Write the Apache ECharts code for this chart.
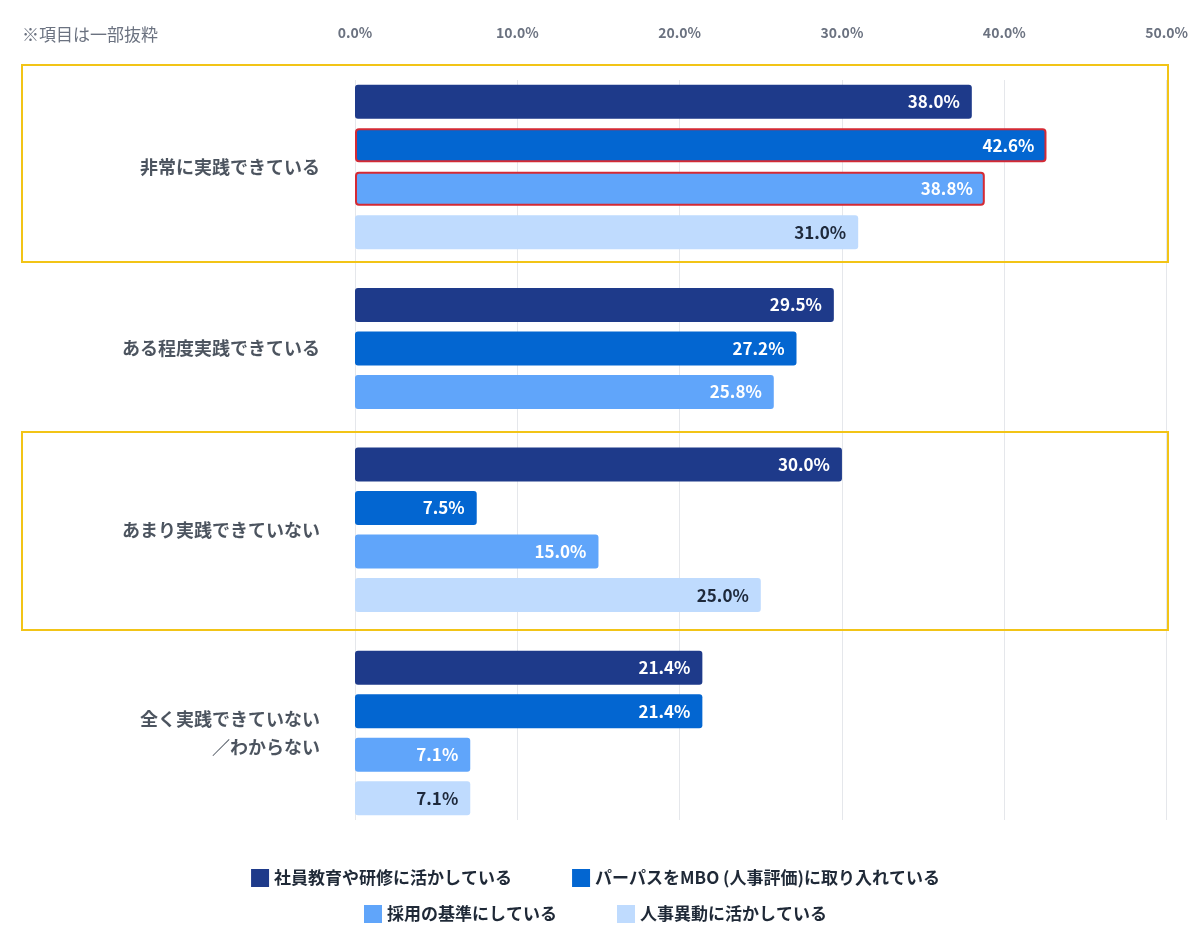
<!DOCTYPE html>
<html>
<head>
<meta charset="utf-8">
<script src="https://cdn.jsdelivr.net/npm/echarts@6/dist/echarts.min.js"></script>
<style>html,body{margin:0;padding:0;background:#fff}#main{width:1191px;height:948px}</style>
</head>
<body>
<div id="main"></div>
<script>
// 回答区分
var groups = ['非常に実践できている', 'ある程度実践できている', 'あまり実践できていない', '全く実践できていない\n／わからない'];
var seriesNames = ['社員教育や研修に活かしている', 'パーパスをMBO (人事評価)に取り入れている', '採用の基準にしている', '人事異動に活かしている'];
var kyoiku = [38.0, 29.5, 30.0, 21.4];
var mbo = [42.6, 27.2, 7.5, 21.4];
var saiyo = [38.8, 25.8, 15.0, 7.1];
var idou = [31.0, null, 25.0, 7.1];
var xTicks = [0, 10, 20, 30, 40, 50];

var colors = ['#1e3a8a', '#0366d1', '#60a5fa', '#bfdbfe'];
var labelColors = ['#fff', '#fff', '#fff', '#1e293b'];
var allValues = [kyoiku, mbo, saiyo, idou];
var font = '"Noto Sans CJK JP", "Noto Sans", sans-serif';

// 細かい行に分けて、バー間は3行・グループ間は5行
var rows = [];
for (var i = 0; i < 51; i++) rows.push(String(i));
var positions = [];
var firstRow = [];
var lastRow = [];
var p = 1;
groups.forEach(function (g, gi) {
  var row = [];
  allValues.forEach(function (vals, si) {
    if (vals[gi] != null) { row[si] = p; p += 3; }
  });
  p += 2;
  positions.push(row);
  var used = row.filter(function (v) { return v != null; });
  firstRow.push(used[0]);
  lastRow.push(used[used.length - 1]);
});

var series = allValues.map(function (vals, si) {
  var data = [];
  vals.forEach(function (v, gi) {
    if (v == null) return;
    var item = { value: [v, positions[gi][si]] };
    if (gi === 0 && (si === 1 || si === 2)) {
      item.itemStyle = { borderColor: '#d42a34', borderWidth: 2 };
    }
    data.push(item);
  });
  return {
    name: seriesNames[si],
    type: 'bar',
    barWidth: 34,
    barGap: '-100%',
    itemStyle: { color: colors[si], borderRadius: 3 },
    label: {
      show: true, position: 'insideRight', distance: 12,
      formatter: function (d) { return d.value[0].toFixed(1) + '%'; },
      color: labelColors[si], fontSize: 17, fontWeight: 'bold', fontFamily: font
    },
    data: data
  };
});

var boxStyle = { color: 'rgba(0,0,0,0)', borderColor: '#f2c417', borderWidth: 2 };
series.push({
  type: 'scatter',
  symbolSize: 0,
  clip: false,
  silent: true,
  label: {
    show: true, position: 'left', distance: 35, align: 'right',
    formatter: function (d) { return d.data.name; },
    color: '#1f2937', fontSize: 18, fontWeight: 'bold', fontFamily: font, lineHeight: 28
  },
  data: groups.map(function (g, gi) {
    var mid = (firstRow[gi] + lastRow[gi]) / 2;
    var r = Math.floor(mid);
    return { name: g, value: [0, r], label: { offset: [0, (mid - r) * 14.5] } };
  }),
  markArea: {
    silent: true,
    itemStyle: boxStyle,
    data: [
      [{ x: 22, y: 65 }, { x: 1168, y: 262 }],
      [{ x: 22, y: 432 }, { x: 1168, y: 630 }]
    ]
  }
});

var myChart = echarts.init(document.getElementById('main'));
myChart.setOption({
  animation: false,
  grid: { left: 355, right: 16, top: 80, bottom: 128 },
  xAxis: {
    type: 'value', position: 'top', min: xTicks[0], max: xTicks[xTicks.length - 1], interval: 10,
    axisLine: { show: false }, axisTick: { show: false },
    axisLabel: { margin: 40, color: '#6b7280', fontSize: 14, fontWeight: 'bold', fontFamily: font,
      formatter: function (v) { return v.toFixed(1) + '%'; } },
    splitLine: { lineStyle: { color: '#e5e7eb' } }
  },
  yAxis: { type: 'category', data: rows, inverse: true, show: false },
  legend: [{
    data: seriesNames.slice(0, 2), bottom: 56, left: 'center', itemGap: 60,
    icon: 'rect', itemWidth: 18, itemHeight: 18,
    textStyle: { color: '#1f2937', fontSize: 17, fontWeight: 'bold', fontFamily: font }
  }, {
    data: seriesNames.slice(2), bottom: 20, left: 'center', itemGap: 60,
    icon: 'rect', itemWidth: 18, itemHeight: 18,
    textStyle: { color: '#1f2937', fontSize: 17, fontWeight: 'bold', fontFamily: font }
  }],
  graphic: [{
    type: 'text', left: 22, top: 26,
    style: { text: '※項目は一部抜粋', fill: '#6b7280', fontSize: 17, fontFamily: font }
  }],
  series: series
});
</script>
</body>
</html>
